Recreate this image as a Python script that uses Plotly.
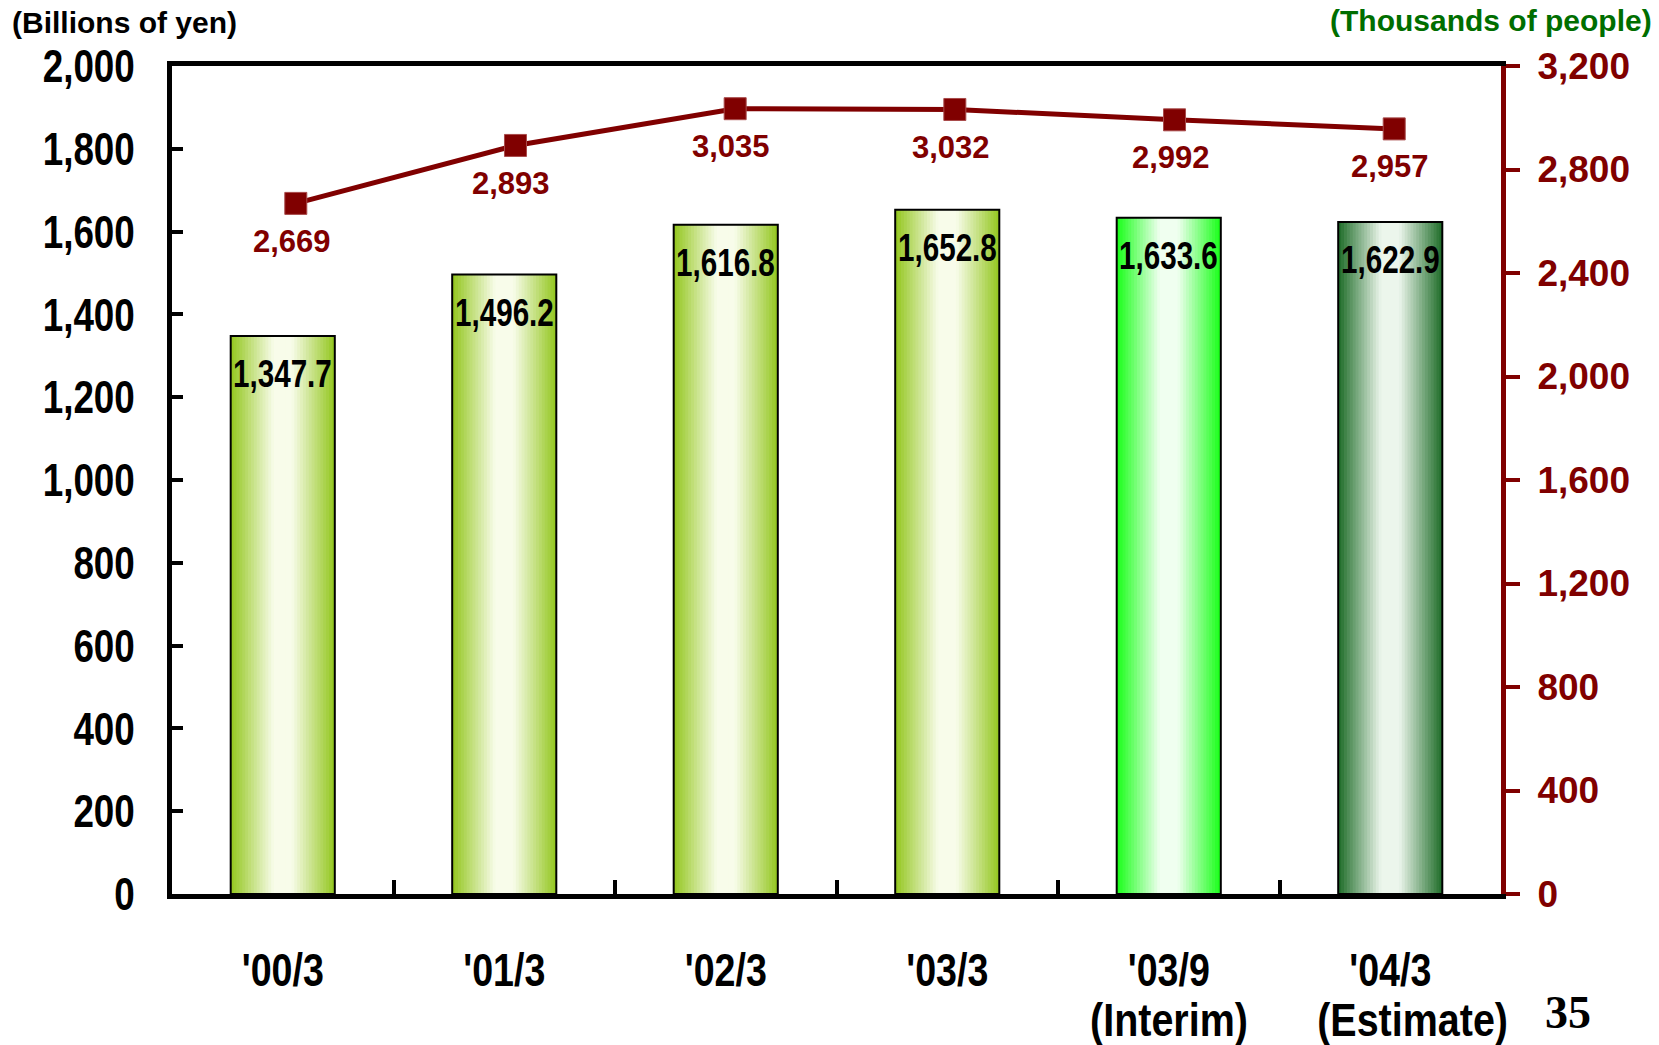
import json
import plotly.graph_objects as go

# ---------------- data ----------------
categories = ["'00/3", "'01/3", "'02/3", "'03/3", "'03/9", "'04/3"]
category_notes = ["", "", "", "", "(Interim)", "(Estimate)"]
sales = [1347.7, 1496.2, 1616.8, 1652.8, 1633.6, 1622.9]          # billions of yen (left axis)
sales_labels = ["1,347.7", "1,496.2", "1,616.8", "1,652.8", "1,633.6", "1,622.9"]
people = [2669, 2893, 3035, 3032, 2992, 2957]                      # thousands of people (right axis)
people_labels = ["2,669", "2,893", "3,035", "3,032", "2,992", "2,957"]
line_x = [0, 1, 2, 3, 4, 5]
left_ticks = [0, 200, 400, 600, 800, 1000, 1200, 1400, 1600, 1800, 2000]
right_ticks = [0, 400, 800, 1200, 1600, 2000, 2400, 2800, 3200]

# ---------------- styles ----------------
W, H = 1659, 1045
L, R, T, B = 172.25, 1500.75, 66.25, 893.75
LW = 5
DARK_RED = "#800000"
GREEN_TITLE = "rgb(0,110,0)"
SANS = "Liberation Sans, Arial, sans-serif"
note_xshift = [0, 0, 0, 0, 0, 22]

edge_cols = [(150, 200, 36)] * 4 + [(30, 255, 30), (36, 112, 46)]
center_cols = [(248, 252, 234)] * 4 + [(240, 255, 240), (236, 246, 236)]
bar_width = 0.47
N_LAYERS = 18


def mix(c1, c2, t):
    return "rgb(%d,%d,%d)" % tuple(round(a + (b - a) * t) for a, b in zip(c1, c2))


fig = go.Figure()

for k in range(N_LAYERS):
    frac = 1 - k / N_LAYERS
    t = min(1.0, (1 - frac) / 0.8)
    cols = [mix(e, c, t) for e, c in zip(edge_cols, center_cols)]
    fig.add_trace(go.Bar(
        x=categories, y=sales, width=bar_width * frac,
        marker=dict(color=cols, line=dict(width=0)),
        hoverinfo="skip", showlegend=False,
    ))

# outline on top
fig.add_trace(go.Bar(
    x=categories, y=sales, width=bar_width,
    marker=dict(color="rgba(0,0,0,0)", line=dict(color="black", width=2)),
    hoverinfo="skip", showlegend=False,
))

# line on secondary axes
fig.add_trace(go.Scatter(
    x=line_x, y=people, xaxis="x2", yaxis="y2", mode="lines+markers",
    line=dict(color=DARK_RED, width=5),
    marker=dict(symbol="square", size=22, color=DARK_RED, line=dict(color="#a84a4a", width=1)),
    hoverinfo="skip", showlegend=False,
))

pw, ph = R - L, B - T
annotations = []
narrow_idx = {}   # annotation index -> horizontal scale

for c, v, s in zip(categories, sales, sales_labels):
    narrow_idx[len(annotations)] = 0.78
    annotations.append(dict(
        x=c, y=v, xref="x", yref="y", text=s, showarrow=False,
        yanchor="middle", yshift=-38,
        font=dict(family=SANS, size=38, color="black", weight="bold"),
    ))
for xv, v, s in zip(line_x, people, people_labels):
    annotations.append(dict(
        x=xv, y=v, xref="x2", yref="y2", text=s, showarrow=False,
        yanchor="middle", yshift=-38, xshift=-4,
        font=dict(family=SANS, size=31, color=DARK_RED, weight="bold"),
    ))
for c, note, dx in zip(categories, category_notes, note_xshift):
    if note:
        narrow_idx[len(annotations)] = 0.84
        annotations.append(dict(
            x=c, y=(B - 1019) / ph, xref="x", yref="paper", text=note, showarrow=False,
            yanchor="middle", xshift=dx,
            font=dict(family=SANS, size=47, color="black", weight="bold"),
        ))

annotations += [
    dict(x=(10 - L) / pw, y=(B - 23) / ph, xref="paper", yref="paper",
         text="(Billions of yen)", showarrow=False, xanchor="left", yanchor="middle",
         font=dict(family=SANS, size=30, color="black", weight="bold")),
    dict(x=(1654 - L) / pw, y=(B - 21) / ph, xref="paper", yref="paper",
         text="(Thousands of people)", showarrow=False, xanchor="right", yanchor="middle",
         font=dict(family=SANS, size=30, color=GREEN_TITLE, weight="bold")),
    dict(x=(1568 - L) / pw, y=(B - 1012) / ph, xref="paper", yref="paper",
         text="35", showarrow=False, xanchor="center", yanchor="middle",
         font=dict(family="Liberation Serif, Times New Roman, serif", size=46, color="black", weight="bold")),
]

# secondary x range so that markers sit slightly right of the bar centres, as in the source
px_per_unit = 219.6
r0 = -(296 - L) / px_per_unit
r1 = r0 + pw / px_per_unit

fig.update_layout(
    width=W, height=H,
    margin=dict(l=L, r=W - R, t=T, b=H - B, pad=0, autoexpand=False),
    paper_bgcolor="white", plot_bgcolor="white",
    barmode="overlay", showlegend=False,
    annotations=annotations,
    xaxis=dict(
        type="category", categoryorder="array", categoryarray=categories,
        range=[-0.5, len(categories) - 0.5], tickangle=0, automargin=False,
        showline=True, linecolor="black", linewidth=LW, mirror=True,
        ticks="inside", tickson="boundaries", ticklen=14, tickwidth=4, tickcolor="black",
        tickfont=dict(family=SANS, size=47, color="black", weight="bold"),
        ticklabelstandoff=31, showgrid=False, zeroline=False,
    ),
    xaxis2=dict(overlaying="x", range=[r0, r1], visible=False, showgrid=False, zeroline=False),
    yaxis=dict(
        range=[0, 2000], tickvals=left_ticks, tickformat=",d", automargin=False,
        showline=True, linecolor="black", linewidth=LW,
        ticks="inside", ticklen=11, tickwidth=4, tickcolor="black",
        tickfont=dict(family=SANS, size=46, color="black", weight="bold"),
        ticklabelstandoff=23, showgrid=False, zeroline=False,
    ),
    yaxis2=dict(
        overlaying="y", side="right", anchor="x", range=[0, 3200],
        tickvals=right_ticks, tickformat=",d", automargin=False,
        showline=True, linecolor=DARK_RED, linewidth=LW,
        ticks="outside", ticklen=14, tickwidth=4, tickcolor=DARK_RED,
        tickfont=dict(family=SANS, size=37, color=DARK_RED, weight="bold"),
        ticklabelstandoff=10, showgrid=False, zeroline=False,
    ),
)

# narrow (Arial-Narrow-like) rendering of the left tick labels, category labels and bar values
post_js = """
var gd = document.getElementById('{plot_id}');
function narrow(el, s) {
  var bb = el.getBBox();
  var a = el.getAttribute('text-anchor') || 'start';
  var px = a === 'end' ? bb.x + bb.width : (a === 'middle' ? bb.x + bb.width / 2 : bb.x);
  var old = el.getAttribute('transform') || '';
  el.setAttribute('transform', old + ' translate(' + px + ',0) scale(' + s + ',1) translate(' + (-px) + ',0)');
}
gd.querySelectorAll('g.ytick text').forEach(function (el) { narrow(el, 0.80); });
gd.querySelectorAll('g.xtick text').forEach(function (el) { narrow(el, 0.80); });
var idx = NARROW_IDX;
Object.keys(idx).forEach(function (i) {
  var g = gd.querySelector('g.annotation[data-index="' + i + '"] text.annotation-text');
  if (g) narrow(g, idx[i]);
});
""".replace("NARROW_IDX", json.dumps({str(k): v for k, v in narrow_idx.items()}))

fig.write_html("out.html", post_script=post_js)
